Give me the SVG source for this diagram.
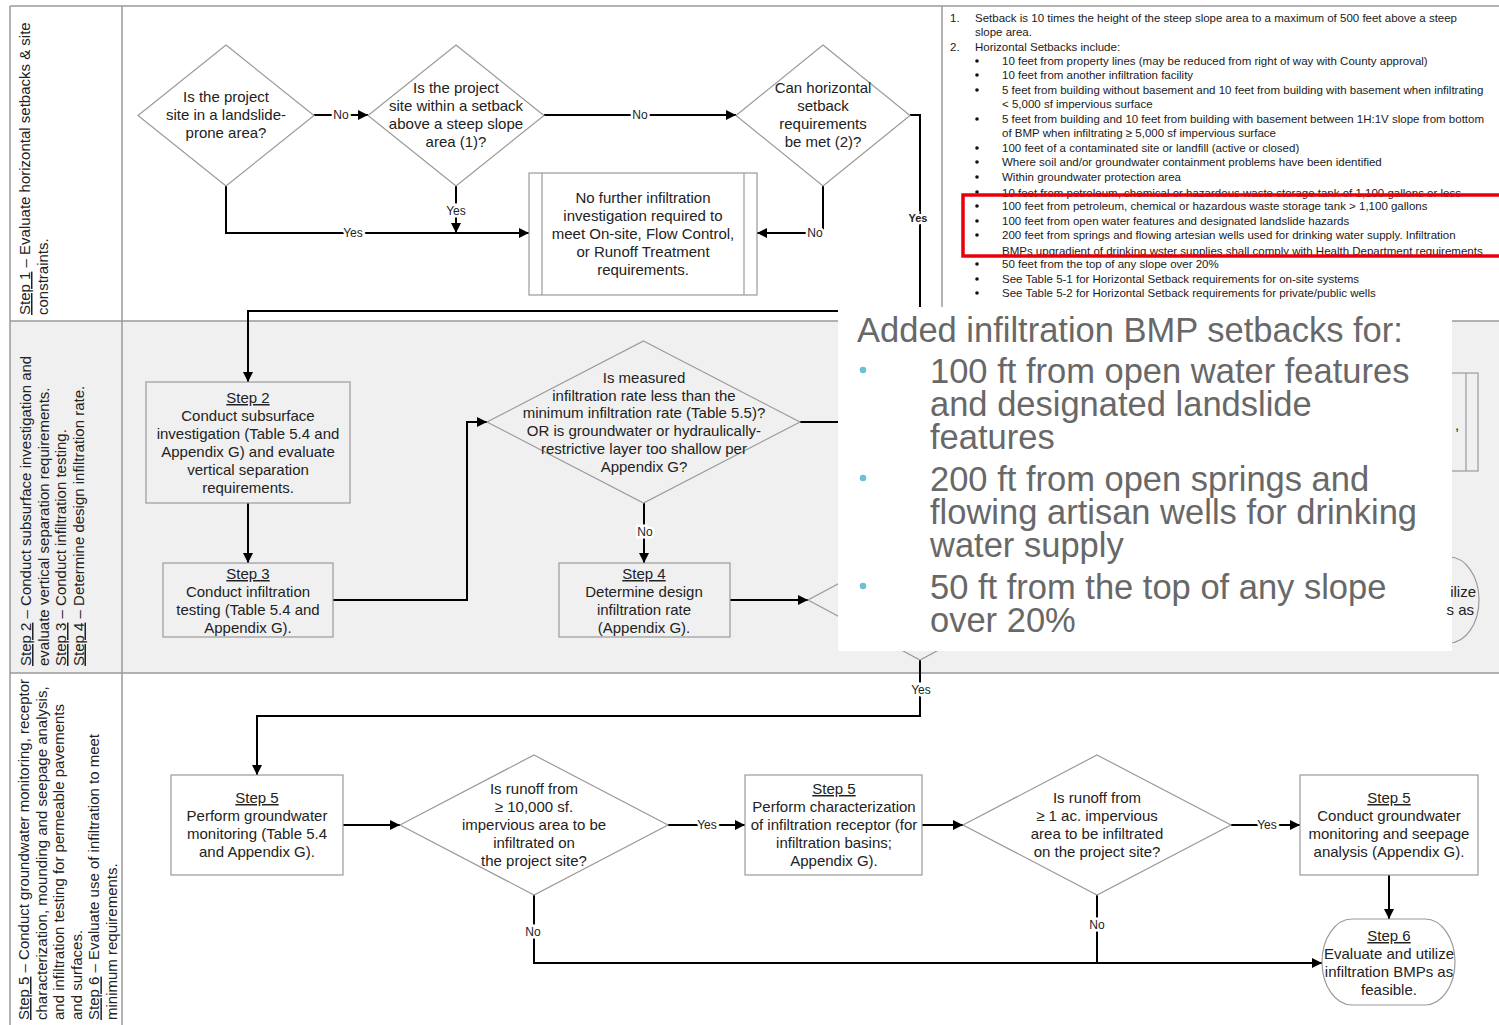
<svg xmlns="http://www.w3.org/2000/svg" width="1499" height="1025" viewBox="0 0 1499 1025">
<defs>
<marker id="ah" viewBox="0 0 10 10" refX="10" refY="5" markerWidth="10" markerHeight="10" markerUnits="userSpaceOnUse" orient="auto"><path d="M0,0 L10,5 L0,10 z" fill="#000"/></marker>
<style>
.lane{stroke:#9a9a9a;stroke-width:1.5;fill:none}
.node{fill:none;stroke:#9a9a9a;stroke-width:1.2}
.t{font-family:"Liberation Sans",Arial,sans-serif;font-size:15px;fill:#222;text-anchor:middle}
.lbl{font-family:"Liberation Sans",Arial,sans-serif;font-size:15px;fill:#222}
.u{text-decoration:underline}
.c{fill:none;stroke:#000;stroke-width:2}
.ca{fill:none;stroke:#000;stroke-width:2;marker-end:url(#ah)}
.cl{font-family:"Liberation Sans",Arial,sans-serif;font-size:12px;fill:#222;text-anchor:middle;stroke:#fff;stroke-width:5;paint-order:stroke}
.n{font-family:"Liberation Sans",Arial,sans-serif;font-size:11.5px;fill:#1a1a1a}
.ov{font-family:"Liberation Sans",Arial,sans-serif;font-size:34.5px;fill:#686868}
</style>
</defs>
<rect x="0" y="0" width="1499" height="1025" fill="#fff"/>
<rect x="10" y="321" width="1489" height="352" fill="#f0f0f0"/>
<g id="lanes">
<line class="lane" x1="10" y1="6" x2="1499" y2="6"/>
<line class="lane" x1="10" y1="6" x2="10" y2="1025"/>
<line class="lane" x1="122" y1="6" x2="122" y2="1025"/>
<line class="lane" x1="10" y1="321" x2="1499" y2="321"/>
<line class="lane" x1="10" y1="673" x2="1499" y2="673"/>
<line class="lane" x1="942" y1="6" x2="942" y2="321"/>
<text class="lbl" transform="translate(30,315) rotate(-90)"><tspan x="0" y="0"><tspan class="u">Step 1</tspan> – Evaluate horizontal setbacks &amp; site</tspan><tspan x="0" y="18">constraints.</tspan></text>
<text class="lbl" transform="translate(31,666) rotate(-90)"><tspan x="0" y="0"><tspan class="u">Step 2</tspan> – Conduct subsurface investigation and</tspan><tspan x="0" y="17.5">evaluate vertical separation requirements.</tspan><tspan x="0" y="35"><tspan class="u">Step 3</tspan> – Conduct infiltration testing.</tspan><tspan x="0" y="52.5"><tspan class="u">Step 4</tspan> – Determine design infiltration rate.</tspan></text>
<text class="lbl" transform="translate(29,1020) rotate(-90)"><tspan x="0" y="0"><tspan class="u">Step 5</tspan> – Conduct groundwater monitoring, receptor</tspan><tspan x="0" y="17.6">characterization, mounding and seepage analysis,</tspan><tspan x="0" y="35.2">and infiltration testing for permeable pavements</tspan><tspan x="0" y="52.8">and surfaces.</tspan><tspan x="0" y="70.4"><tspan class="u">Step 6</tspan> – Evaluate use of infiltration to meet</tspan><tspan x="0" y="88">minimum requirements.</tspan></text>
</g>
<g id="connectors">
<polyline class="ca" points="314,115 368,115"/>
<polyline class="ca" points="544,115 736,115"/>
<polyline class="ca" points="910,115 920,115 920,311 248,311 248,382"/>
<polyline class="ca" points="823,186 823,233 757,233"/>
<polyline class="ca" points="226,186 226,233 529,233"/>
<polyline class="ca" points="456,186 456,233"/>
<polyline class="ca" points="248,503 248,563"/>
<polyline class="ca" points="333,600 467,600 467,422 487,422"/>
<polyline class="ca" points="644,503 644,563"/>
<polyline class="ca" points="800,422 1250,422"/>
<polyline class="ca" points="730,600 808,600"/>
<polyline class="ca" points="920,660 920,716 257,716 257,775"/>
<polyline class="ca" points="343,825 400,825"/>
<polyline class="ca" points="668,825 745,825"/>
<polyline class="ca" points="922,825 963,825"/>
<polyline class="ca" points="1231,825 1300,825"/>
<polyline class="ca" points="1389,875 1389,919"/>
<polyline class="ca" points="534,895 534,963 1322,963"/>
<polyline class="c" points="1097,895 1097,963"/>
<text class="cl" x="341" y="119">No</text>
<text class="cl" x="640" y="119">No</text>
<text class="cl" x="918" y="222" style="font-weight:bold;font-size:11px">Yes</text>
<text class="cl" x="815" y="237">No</text>
<text class="cl" x="353" y="237">Yes</text>
<text class="cl" x="456" y="215">Yes</text>
<text class="cl" x="645" y="536">No</text>
<text class="cl" x="921" y="694">Yes</text>
<text class="cl" x="707" y="829">Yes</text>
<text class="cl" x="1267" y="829">Yes</text>
<text class="cl" x="533" y="936">No</text>
<text class="cl" x="1097" y="929">No</text>
</g>
<g id="d1"><polygon class="node" points="226,45 314,115.5 226,186 138,115.5"/><text class="t"><tspan x="226" y="102">Is the project</tspan><tspan x="226" y="120">site in a landslide-</tspan><tspan x="226" y="138">prone area?</tspan></text></g>
<g id="d2"><polygon class="node" points="456,45 544,115.5 456,186 368,115.5"/><text class="t"><tspan x="456" y="93">Is the project</tspan><tspan x="456" y="111">site within a setback</tspan><tspan x="456" y="129">above a steep slope</tspan><tspan x="456" y="147">area (1)?</tspan></text></g>
<g id="d3"><polygon class="node" points="823,45 910,115.5 823,186 736,115.5"/><text class="t"><tspan x="823" y="93">Can horizontal</tspan><tspan x="823" y="111">setback</tspan><tspan x="823" y="129">requirements</tspan><tspan x="823" y="147">be met (2)?</tspan></text></g>
<g id="nofurther"><rect class="node" x="529" y="173" width="228" height="122" fill="#fff"/><line class="node" x1="542" y1="173" x2="542" y2="295"/><line class="node" x1="744" y1="173" x2="744" y2="295"/><text class="t"><tspan x="643" y="203">No further infiltration</tspan><tspan x="643" y="221">investigation required to</tspan><tspan x="643" y="239">meet On-site, Flow Control,</tspan><tspan x="643" y="257">or Runoff Treatment</tspan><tspan x="643" y="275">requirements.</tspan></text></g>
<g id="notes">
<text class="n" x="950" y="22">1.</text><text class="n" x="975" y="22">Setback is 10 times the height of the steep slope area to a maximum of 500 feet above a steep</text>
<text class="n" x="975" y="36">slope area.</text>
<text class="n" x="950" y="51">2.</text><text class="n" x="975" y="51">Horizontal Setbacks include:</text>
<g fill="#111"><circle cx="977" cy="61" r="1.8"/><circle cx="977" cy="75" r="1.8"/><circle cx="977" cy="90" r="1.8"/><circle cx="977" cy="119" r="1.8"/><circle cx="977" cy="148" r="1.8"/><circle cx="977" cy="162" r="1.8"/><circle cx="977" cy="177" r="1.8"/><circle cx="977" cy="192" r="1.8"/><circle cx="977" cy="206" r="1.8"/><circle cx="977" cy="221" r="1.8"/><circle cx="977" cy="235" r="1.8"/><circle cx="977" cy="264" r="1.8"/><circle cx="977" cy="279" r="1.8"/><circle cx="977" cy="293" r="1.8"/></g>
<text class="n" x="1002" y="65">10 feet from property lines (may be reduced from right of way with County approval)</text>
<text class="n" x="1002" y="79">10 feet from another infiltration facility</text>
<text class="n" x="1002" y="94">5 feet from building without basement and 10 feet from building with basement when infiltrating</text>
<text class="n" x="1002" y="108">&lt; 5,000 sf impervious surface</text>
<text class="n" x="1002" y="123">5 feet from building and 10 feet from building with basement between 1H:1V slope from bottom</text>
<text class="n" x="1002" y="137">of BMP when infiltrating ≥ 5,000 sf impervious surface</text>
<text class="n" x="1002" y="152">100 feet of a contaminated site or landfill (active or closed)</text>
<text class="n" x="1002" y="166">Where soil and/or groundwater containment problems have been identified</text>
<text class="n" x="1002" y="181">Within groundwater protection area</text>
<text class="n" x="1002" y="197">10 feet from petroleum, chemical or hazardous waste storage tank of 1,100 gallons or less</text>
<text class="n" x="1002" y="210">100 feet from petroleum, chemical or hazardous waste storage tank &gt; 1,100 gallons</text>
<text class="n" x="1002" y="225">100 feet from open water features and designated landslide hazards</text>
<text class="n" x="1002" y="239">200 feet from springs and flowing artesian wells used for drinking water supply. Infiltration</text>
<text class="n" x="1002" y="255">BMPs upgradient of drinking wster supplies shall comply with Health Department requirements</text>
<text class="n" x="1002" y="268">50 feet from the top of any slope over 20%</text>
<text class="n" x="1002" y="283">See Table 5-1 for Horizontal Setback requirements for on-site systems</text>
<text class="n" x="1002" y="297">See Table 5-2 for Horizontal Setback requirements for private/public wells</text>
<rect x="963" y="195" width="560" height="61" fill="none" stroke="#e8000b" stroke-width="3.5"/>
</g>
<g id="step2"><rect class="node" x="146" y="382" width="204" height="121"/><text class="t"><tspan x="248" y="403" class="u">Step 2</tspan><tspan x="248" y="421">Conduct subsurface</tspan><tspan x="248" y="439">investigation (Table 5.4 and</tspan><tspan x="248" y="457">Appendix G) and evaluate</tspan><tspan x="248" y="475">vertical separation</tspan><tspan x="248" y="493">requirements.</tspan></text></g>
<g id="step3"><rect class="node" x="163" y="563" width="170" height="74"/><text class="t"><tspan x="248" y="579" class="u">Step 3</tspan><tspan x="248" y="597">Conduct infiltration</tspan><tspan x="248" y="615">testing (Table 5.4 and</tspan><tspan x="248" y="633">Appendix G).</tspan></text></g>
<g id="d4"><polygon class="node" points="643.5,341 800,422 643.5,503 487,422"/><text class="t"><tspan x="644" y="383">Is measured</tspan><tspan x="644" y="401">infiltration rate less than the</tspan><tspan x="644" y="418">minimum infiltration rate (Table 5.5)?</tspan><tspan x="644" y="436">OR is groundwater or hydraulically-</tspan><tspan x="644" y="454">restrictive layer too shallow per</tspan><tspan x="644" y="472">Appendix G?</tspan></text></g>
<g id="step4"><rect class="node" x="559" y="563" width="171" height="74"/><text class="t"><tspan x="644" y="579" class="u">Step 4</tspan><tspan x="644" y="597">Determine design</tspan><tspan x="644" y="615">infiltration rate</tspan><tspan x="644" y="633">(Appendix G).</tspan></text></g>
<g id="d5"><polygon class="node" points="920,540 1032,600 920,660 808,600"/></g>
<g id="nofurther2"><rect class="node" x="1250" y="373" width="228" height="98"/><line class="node" x1="1263" y1="373" x2="1263" y2="471"/><line class="node" x1="1466" y1="373" x2="1466" y2="471"/></g>
<g id="step6a"><rect class="node" x="1346" y="557" width="133" height="86" rx="30" ry="43"/></g>
<g id="overlay">
<rect x="838" y="307" width="614" height="344" fill="#fff"/>
<text class="ov" x="857" y="342">Added infiltration BMP setbacks for:</text>
<g fill="#6cc0d6"><circle cx="863" cy="370" r="3.3"/><circle cx="863" cy="478" r="3.3"/><circle cx="863" cy="586" r="3.3"/></g>
<text class="ov" x="930" y="383">100 ft from open water features</text>
<text class="ov" x="930" y="416">and designated landslide</text>
<text class="ov" x="930" y="449">features</text>
<text class="ov" x="930" y="491">200 ft from open springs and</text>
<text class="ov" x="930" y="524">flowing artisan wells for drinking</text>
<text class="ov" x="930" y="557">water supply</text>
<text class="ov" x="930" y="599">50 ft from the top of any slope</text>
<text class="ov" x="930" y="632">over 20%</text>
</g>
<g id="fragments">
<text class="t" x="1455" y="430" style="text-anchor:start">,</text>
<text class="t" x="1476" y="597" style="text-anchor:end">ilize</text>
<text class="t" x="1474" y="615" style="text-anchor:end">s as</text>
</g>
<g id="step5a"><rect class="node" x="171" y="775" width="172" height="100"/><text class="t"><tspan x="257" y="803" class="u">Step 5</tspan><tspan x="257" y="821">Perform groundwater</tspan><tspan x="257" y="839">monitoring (Table 5.4</tspan><tspan x="257" y="857">and Appendix G).</tspan></text></g>
<g id="da"><polygon class="node" points="534,755 668,825 534,895 400,825"/><text class="t"><tspan x="534" y="794">Is runoff from</tspan><tspan x="534" y="812">≥ 10,000 sf.</tspan><tspan x="534" y="830">impervious area to be</tspan><tspan x="534" y="848">infiltrated on</tspan><tspan x="534" y="866">the project site?</tspan></text></g>
<g id="step5b"><rect class="node" x="745" y="775" width="177" height="100"/><text class="t"><tspan x="834" y="794" class="u">Step 5</tspan><tspan x="834" y="812">Perform characterization</tspan><tspan x="834" y="830">of infiltration receptor (for</tspan><tspan x="834" y="848">infiltration basins;</tspan><tspan x="834" y="866">Appendix G).</tspan></text></g>
<g id="db"><polygon class="node" points="1097,755 1231,825 1097,895 963,825"/><text class="t"><tspan x="1097" y="803">Is runoff from</tspan><tspan x="1097" y="821">≥ 1 ac. impervious</tspan><tspan x="1097" y="839">area to be infiltrated</tspan><tspan x="1097" y="857">on the project site?</tspan></text></g>
<g id="step5c"><rect class="node" x="1300" y="775" width="178" height="100"/><text class="t"><tspan x="1389" y="803" class="u">Step 5</tspan><tspan x="1389" y="821">Conduct groundwater</tspan><tspan x="1389" y="839">monitoring and seepage</tspan><tspan x="1389" y="857">analysis (Appendix G).</tspan></text></g>
<g id="step6"><rect class="node" x="1322" y="919" width="133" height="86" rx="30" ry="43" fill="#fff"/><text class="t"><tspan x="1389" y="941" class="u">Step 6</tspan><tspan x="1389" y="959">Evaluate and utilize</tspan><tspan x="1389" y="977">infiltration BMPs as</tspan><tspan x="1389" y="995">feasible.</tspan></text></g>
</svg>
